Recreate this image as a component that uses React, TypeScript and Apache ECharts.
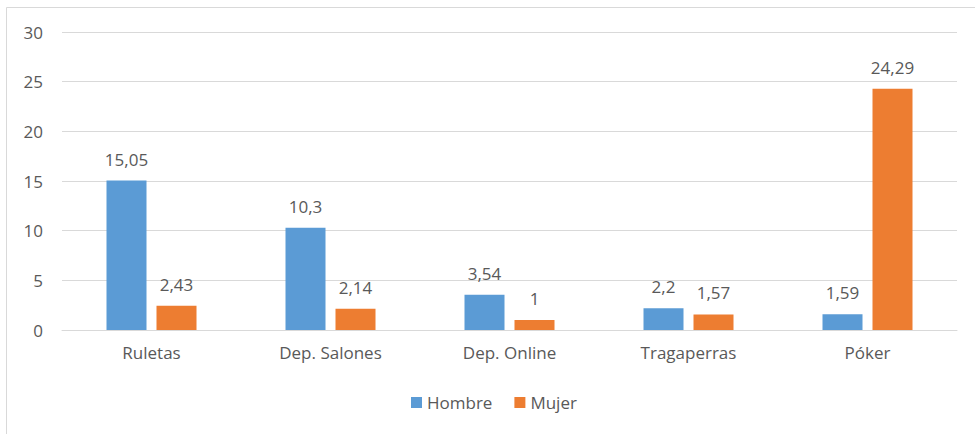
import React, { useEffect, useRef } from "react";
import * as echarts from "echarts";

const categories = ["Ruletas", "Dep. Salones", "Dep. Online", "Tragaperras", "Póker"];
const hombre = [15.05, 10.3, 3.54, 2.2, 1.59];
const mujer = [2.43, 2.14, 1, 1.57, 24.29];
const seriesNames = ["Hombre", "Mujer"];

const FONT = "'Open Sans', sans-serif";
const TEXT = "#595959";
const FS = 17;

export default function App() {
  const ref = useRef<HTMLDivElement>(null);
  useEffect(() => {
    const chart = echarts.init(ref.current!, null, { renderer: "svg" });
    const fmt = (p: any) => String(p.value).replace(".", ",");
    chart.setOption({
      animation: false,
      backgroundColor: "#ffffff",
      graphic: [
        {
          type: "rect",
          shape: { x: 6.5, y: 7.5, width: 1000, height: 500 },
          style: { fill: "none", stroke: "#d9d9d9", lineWidth: 1 },
          silent: true,
        },
      ],
      grid: { left: 62, right: 18, top: 32, bottom: 104, containLabel: false },
      legend: {
        data: seriesNames,
        bottom: 18,
        left: 406,
        itemWidth: 11,
        itemHeight: 11,
        itemGap: 22,
        icon: "rect",
        textStyle: { color: TEXT, fontFamily: FONT, fontSize: FS },
      },
      xAxis: {
        type: "category",
        data: categories,
        axisLine: { lineStyle: { color: "#d9d9d9", width: 1 } },
        axisTick: { show: false },
        axisLabel: { color: TEXT, fontFamily: FONT, fontSize: FS, margin: 14 },
      },
      yAxis: {
        type: "value",
        min: 0,
        max: 30,
        interval: 5,
        axisLine: { show: false },
        axisTick: { show: false },
        splitLine: { lineStyle: { color: "#d9d9d9", width: 1 } },
        axisLabel: { color: TEXT, fontFamily: FONT, fontSize: FS, margin: 19 },
      },
      series: [
        {
          name: seriesNames[0],
          type: "bar",
          data: hombre,
          barWidth: 40,
          barGap: "25%",
          itemStyle: { color: "#5B9BD5" },
          label: { show: true, position: "top", distance: 13, color: TEXT, fontFamily: FONT, fontSize: FS, formatter: fmt },
        },
        {
          name: seriesNames[1],
          type: "bar",
          data: mujer,
          barWidth: 40,
          barGap: "25%",
          itemStyle: { color: "#ED7D31" },
          label: { show: true, position: "top", distance: 13, color: TEXT, fontFamily: FONT, fontSize: FS, formatter: fmt },
        },
      ],
    });
    return () => chart.dispose();
  }, []);
  return (
    <div
      ref={ref}
      style={{ position: "absolute", left: 0, top: 0, width: 975, height: 434 }}
    />
  );
}
